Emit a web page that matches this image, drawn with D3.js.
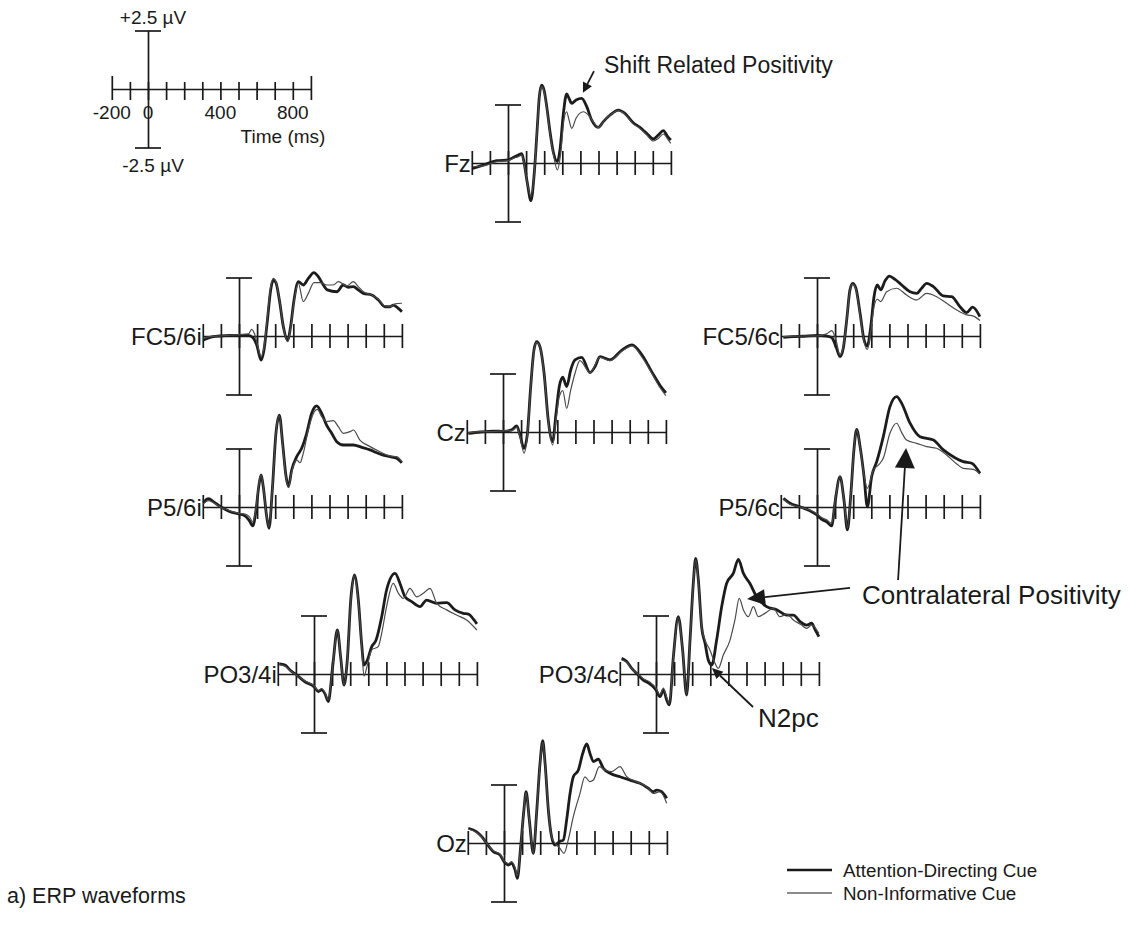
<!DOCTYPE html>
<html>
<head>
<meta charset="utf-8">
<script src="https://cdn.jsdelivr.net/npm/d3@7/dist/d3.min.js"></script>
<style>
  body { margin: 0; background: #fff; }
  svg { font-family: "Liberation Sans", Arial, Helvetica, sans-serif; }
</style>
</head>
<body>
<div id="chart"></div>
<script>
// axis ticks (ms) and the amplitude calibration bar (µV)
var timeTicks = d3.range(-200, 901, 100);
var scaleTickLabels = [-200, 0, 400, 800];
var ampBar = [-2.5, 2.5];

var electrodes = ["Fz", "FC5/6i", "FC5/6c", "Cz", "P5/6i", "P5/6c", "PO3/4i", "PO3/4c", "Oz"];
var conditions = ["Attention-Directing Cue", "Non-Informative Cue"];

// waveforms: [time ms, amplitude µV]
var fzAttend = [[-195,-0.23],[-150,-0.12],[-118,-0.04],[-63,0.1],[2,0.13],[29,0.24],[57,0.34],[76,0.4],[88,0.06],[107,-0.87],[127,-1.61],[145,-0.44],[162,1.55],[173,2.83],[186,3.33],[199,3.12],[214,2.41],[232,1.34],[250,0.48],[273,0.06],[287,0.56],[306,2.12],[324,2.95],[337,2.76],[352,2.55],[376,2.69],[407,2.76],[435,2.41],[462,1.84],[499,1.52],[527,1.77],[564,2.05],[610,2.26],[646,2.12],[692,1.72],[729,1.52],[766,1.27],[803,1.03],[831,1.2],[858,1.38],[880,1.15],[899,0.98]];
var fzNeutral = [[-195,-0.16],[-150,-0.14],[-118,-0.09],[-63,0.06],[2,0.1],[29,0.2],[57,0.27],[76,0.34],[88,0.01],[107,-0.87],[127,-1.44],[145,-0.44],[162,1.55],[173,2.8],[186,3.26],[199,3.05],[214,2.34],[232,1.27],[250,0.41],[273,-0.3],[291,0.41],[309,1.84],[324,2.19],[337,1.84],[352,1.48],[376,1.91],[416,2.19],[444,2.05],[471,1.77],[499,1.52],[527,1.77],[564,2.05],[610,2.24],[646,2.09],[692,1.67],[729,1.48],[766,1.2],[803,0.94],[831,1.05],[858,1.24],[886,0.98],[899,0.84]];

var fc56iAttend = [[-197,-0.17],[-160,-0.06],[-105,0],[-50,0.03],[0,0.03],[52,0.03],[76,-0.06],[98,-0.38],[122,-1.03],[138,-0.6],[157,0.68],[175,1.97],[190,2.39],[204,2.28],[223,1.54],[245,0.4],[269,-0.2],[285,0.4],[304,1.54],[328,2.32],[355,2.18],[383,2.46],[414,2.71],[438,2.54],[466,2.18],[488,1.97],[540,1.89],[576,2.18],[604,2.08],[632,2.11],[659,1.97],[687,1.82],[733,1.75],[770,1.54],[807,1.25],[834,1.25],[853,1.32],[880,1.18],[900,1.04]];
var fc56iNeutral = [[-197,-0.1],[-160,-0.03],[-105,0],[0,0.06],[52,0.09],[70,0.28],[88,0.04],[107,-0.53],[122,-0.88],[138,-0.48],[157,0.83],[175,2.11],[190,2.46],[204,2.32],[223,1.57],[245,0.4],[269,-0.24],[285,0.33],[304,1.47],[328,2.25],[355,1.47],[383,1.82],[414,2.28],[448,2.28],[484,2.18],[521,2.18],[549,2.32],[595,2.14],[632,2.32],[659,2.11],[687,1.89],[733,1.75],[770,1.57],[807,1.28],[834,1.25],[862,1.37],[900,1.4]];

var fc56cAttend = [[-186,-0.06],[-131,-0.03],[-76,-0.01],[0,0.03],[53,0],[81,-0.06],[105,-0.46],[127,-0.88],[145,-0.53],[164,0.68],[182,1.97],[197,2.25],[215,2.04],[238,0.97],[260,-0.17],[278,-0.43],[297,0.4],[315,1.68],[333,2.18],[352,1.97],[376,2.36],[400,2.56],[431,2.42],[468,2.18],[514,1.89],[551,1.82],[578,2.04],[606,2.25],[643,2.11],[698,1.71],[744,1.68],[790,1.25],[827,1.0],[860,1.23],[900,0.83]];
var fc56cNeutral = [[-186,-0.03],[-76,0],[0,0],[53,0.09],[81,0.23],[105,-0.17],[127,-0.81],[145,-0.48],[164,0.68],[182,1.94],[197,2.22],[215,2.0],[238,0.9],[260,-0.24],[278,-0.57],[297,0.19],[315,1.25],[333,1.57],[352,1.47],[385,1.89],[440,2.04],[495,1.75],[551,1.54],[606,1.82],[661,1.68],[716,1.4],[772,1.11],[827,0.9],[864,0.85],[900,0.66]];

var czAttend = [[-192,-0.06],[-127,0],[-53,0.04],[0,0.03],[48,0.09],[76,0.26],[94,-0.13],[116,-0.7],[134,-0.13],[153,1.94],[171,3.5],[186,3.86],[204,3.65],[227,2.51],[250,0.51],[274,-0.41],[293,0.8],[311,1.94],[330,2.34],[352,1.94],[374,2.65],[398,3.08],[435,3.19],[481,2.54],[508,2.79],[536,3.22],[591,3.08],[657,3.5],[713,3.72],[768,3.29],[823,2.56],[867,2.0],[900,1.67]];
var czNeutral = [[-192,-0.03],[-127,0.02],[-53,0.02],[0,0.05],[48,0.06],[76,0.2],[94,-0.2],[116,-0.9],[134,-0.2],[153,1.9],[171,3.45],[186,3.83],[204,3.62],[227,2.48],[250,0.48],[274,-0.56],[293,0.51],[311,1.51],[330,1.77],[352,1.01],[374,1.79],[398,2.51],[425,3.05],[481,2.54],[536,3.19],[591,3.05],[657,3.45],[713,3.68],[768,3.2],[823,2.5],[867,1.9],[900,1.55]];

var p56iAttend = [[-197,0.19],[-169,0.36],[-142,0.23],[-101,0.01],[-50,-0.2],[0,-0.3],[33,-0.38],[57,-0.58],[76,-0.81],[94,-0.13],[109,0.87],[122,1.37],[134,0.87],[153,-0.41],[166,-0.91],[184,0.73],[204,3.15],[223,3.93],[241,2.72],[260,1.3],[273,0.87],[291,1.58],[319,2.15],[346,2.51],[374,3.15],[401,4.0],[429,4.32],[457,4.0],[484,3.5],[512,3.15],[540,2.79],[576,2.65],[632,2.65],[678,2.55],[724,2.44],[761,2.32],[797,2.22],[834,2.15],[871,2.08],[900,1.89]];
var p56iNeutral = [[-197,0.13],[-169,0.27],[-142,0.19],[-101,-0.01],[-50,-0.16],[0,-0.27],[33,-0.3],[57,-0.41],[76,-0.63],[94,-0.06],[109,0.94],[122,1.37],[134,0.87],[153,-0.38],[166,-0.84],[184,0.73],[204,3.15],[223,3.89],[241,2.65],[260,1.23],[273,0.84],[291,1.5],[319,2.01],[337,1.89],[355,2.29],[383,3.29],[411,4.0],[433,4.17],[457,3.86],[484,3.65],[521,3.69],[549,3.43],[576,3.15],[613,3.22],[632,3.29],[668,2.86],[724,2.58],[779,2.36],[834,2.18],[871,2.15],[900,1.94]];

var p56cAttend = [[-186,0.37],[-149,0.16],[-94,0.01],[-39,-0.16],[0,-0.34],[26,-0.53],[53,-0.63],[81,-0.81],[99,0.16],[127,1.3],[149,0.3],[168,-0.98],[186,0.44],[204,2.44],[219,3.32],[238,2.58],[260,1.3],[278,0.01],[302,1.3],[330,1.94],[366,3.0],[403,4.29],[440,4.72],[468,4.43],[514,3.58],[569,3.0],[643,2.86],[698,2.44],[753,2.15],[808,1.94],[855,1.87],[900,1.44]];
var p56cNeutral = [[-186,0.33],[-149,0.12],[-94,0.0],[-39,-0.13],[0,-0.3],[26,-0.45],[53,-0.55],[81,-0.7],[99,0.2],[127,1.3],[149,0.3],[168,-0.9],[186,0.44],[204,2.44],[219,3.3],[238,2.55],[260,1.35],[278,0.8],[311,1.58],[339,1.79],[366,2.08],[403,3.15],[440,3.58],[468,3.18],[495,2.86],[551,2.72],[606,2.58],[661,2.51],[716,2.22],[772,1.84],[808,1.65],[864,1.61],[900,1.41]];

var po34iAttend = [[-192,0.43],[-160,0.38],[-133,0.17],[-96,-0.04],[-50,-0.33],[0,-0.54],[24,-0.75],[42,-0.68],[61,-0.85],[79,-1.18],[103,0.31],[129,1.88],[147,0.74],[166,-0.47],[184,0.6],[203,3.16],[223,4.23],[245,3.16],[263,1.31],[276,0.38],[295,0.6],[319,1.17],[343,1.45],[374,2.45],[401,3.59],[448,4.3],[475,3.87],[503,3.3],[540,3.09],[586,2.88],[622,3.16],[678,3.02],[733,3.05],[779,2.74],[825,2.59],[853,2.56],[884,2.31],[900,2.14]];
var po34iNeutral = [[-192,0.4],[-160,0.33],[-133,0.15],[-96,-0.06],[-50,-0.3],[0,-0.5],[24,-0.7],[42,-0.62],[61,-0.8],[79,-1.1],[103,0.31],[129,1.85],[147,0.74],[166,-0.45],[184,0.6],[203,3.1],[223,4.2],[245,3.1],[263,1.25],[276,-0.09],[295,0.38],[319,1.03],[355,1.17],[374,1.74],[401,2.88],[438,3.87],[466,3.45],[494,3.23],[530,3.66],[567,3.3],[604,3.45],[641,3.66],[678,3.02],[733,2.74],[788,2.52],[843,2.31],[900,1.88]];

var po34cAttend = [[-190,0.67],[-162,0.53],[-134,0.24],[-107,0.03],[-70,-0.26],[-33,-0.43],[0,-0.68],[22,-0.97],[41,-0.68],[59,-1.11],[74,-1.32],[96,0.74],[123,2.45],[147,1.03],[169,-0.9],[188,1.45],[206,3.87],[219,4.94],[234,4.02],[252,2.02],[271,1.31],[289,0.6],[308,0.38],[335,1.45],[363,2.88],[390,3.87],[427,4.3],[455,4.9],[483,4.3],[519,3.87],[556,3.3],[611,2.88],[667,2.74],[722,2.52],[759,2.52],[796,2.24],[832,2.09],[860,2.17],[878,1.91],[900,1.6]];
var po34cNeutral = [[-190,0.6],[-162,0.5],[-134,0.22],[-107,0.05],[-70,-0.2],[-33,-0.35],[0,-0.6],[22,-0.88],[41,-0.6],[59,-1.0],[74,-1.25],[96,0.74],[123,2.4],[147,1.03],[169,-0.85],[188,1.45],[206,3.8],[219,4.88],[234,3.95],[252,2.02],[271,1.45],[298,1.03],[326,0.46],[344,0.24],[372,0.81],[409,1.45],[436,2.31],[460,3.23],[483,2.74],[510,2.45],[538,2.88],[565,2.45],[602,2.59],[648,2.81],[685,2.45],[722,2.56],[759,2.31],[805,2.09],[832,1.95],[860,2.09],[900,1.74]];

var ozAttend = [[-197,0.63],[-151,0.48],[-123,0.27],[-96,-0.01],[-59,-0.37],[-22,-0.51],[0,-0.8],[24,-0.94],[42,-0.87],[61,-1.15],[74,-1.51],[92,-0.16],[110,1.41],[122,2.19],[140,0.98],[162,-0.44],[180,1.27],[199,3.4],[214,4.37],[227,3.4],[245,1.41],[263,0.27],[282,-0.09],[306,0.06],[328,0.13],[346,0.98],[365,2.12],[383,2.83],[411,3.12],[435,3.83],[457,4.23],[475,3.83],[494,3.48],[521,3.58],[549,3.19],[586,2.98],[641,2.83],[696,2.69],[751,2.55],[797,2.34],[825,2.19],[843,2.26],[871,2.19],[899,1.91]];
var ozNeutral = [[-197,0.6],[-151,0.45],[-123,0.25],[-96,0.0],[-59,-0.33],[-22,-0.48],[0,-0.75],[24,-0.88],[42,-0.8],[61,-1.05],[74,-1.4],[92,-0.16],[110,1.41],[122,2.15],[140,0.98],[162,-0.42],[180,1.27],[199,3.35],[214,4.3],[227,3.35],[245,1.41],[263,0.27],[282,-0.01],[309,-0.23],[331,-0.44],[355,0.13],[383,1.13],[420,2.12],[447,2.83],[475,2.62],[494,2.69],[527,3.26],[558,3.12],[595,3.05],[641,3.26],[678,2.83],[733,2.62],[788,2.41],[825,2.12],[862,2.19],[899,1.7]];

var waves = {
  "Fz": [fzAttend, fzNeutral],
  "FC5/6i": [fc56iAttend, fc56iNeutral],
  "FC5/6c": [fc56cAttend, fc56cNeutral],
  "Cz": [czAttend, czNeutral],
  "P5/6i": [p56iAttend, p56iNeutral],
  "P5/6c": [p56cAttend, p56cNeutral],
  "PO3/4i": [po34iAttend, po34iNeutral],
  "PO3/4c": [po34cAttend, po34cNeutral],
  "Oz": [ozAttend, ozNeutral]
};

// layout: pixel position of (0 ms, 0 µV) for every panel
var origin = {
  "Fz": [508, 163], "FC5/6i": [239, 336], "FC5/6c": [817, 336],
  "Cz": [503, 432], "P5/6i": [239, 507], "P5/6c": [817, 507],
  "PO3/4i": [314, 674], "PO3/4c": [656, 674], "Oz": [504, 843]
};
var msPx = 0.181, uvPx = 23.4;
var ink = "#1a1a1a";

var svg = d3.select("#chart").append("svg")
  .attr("width", 1130).attr("height", 930);

function scalesAt(o) {
  var x = d3.scaleLinear().domain([-200, 900]).range([o[0] - 200 * msPx, o[0] + 900 * msPx]);
  var y = d3.scaleLinear().domain([-2.5, 2.5]).range([o[1] + 2.5 * uvPx, o[1] - 2.5 * uvPx]);
  return {x: x, y: y};
}

function drawAxes(g, s, tickUp, tickDown, endUp) {
  var xa = g.append("g")
    .attr("transform", "translate(0," + s.y(0) + ")")
    .call(d3.axisBottom(s.x).tickValues(timeTicks).tickSize(tickDown).tickSizeOuter(0).tickFormat(""));
  xa.selectAll(".tick line")
    .attr("y1", function(d) { return (d == -200 || d == 900) ? -endUp : -tickUp; })
    .attr("y2", tickDown);
  var ya = g.append("g")
    .attr("transform", "translate(" + s.x(0) + ",0)")
    .call(d3.axisLeft(s.y).tickValues(ampBar).tickSize(0).tickSizeOuter(0).tickFormat(""));
  ya.selectAll(".tick line").attr("x1", -13).attr("x2", 13);
  g.selectAll(".domain, .tick line").attr("stroke", ink).attr("stroke-width", 1.7);
}

// waveform panels
electrodes.forEach(function(name) {
  var s = scalesAt(origin[name]);
  var g = svg.append("g").attr("class", "panel");
  drawAxes(g, s, 12, 12, 12);

  var line = d3.line()
    .x(function(d) { return s.x(d[0]); })
    .y(function(d) { return s.y(d[1]); })
    .curve(d3.curveMonotoneX);

  g.append("path").datum(waves[name][0])
    .attr("d", line).attr("fill", "none")
    .attr("stroke", "#1c1c1c").attr("stroke-width", 2.8).attr("stroke-linejoin", "round");
  g.append("path").datum(waves[name][1])
    .attr("d", line).attr("fill", "none")
    .attr("stroke", "#4a4a4a").attr("stroke-width", 1.2).attr("stroke-linejoin", "round");

  g.append("text")
    .attr("x", s.x(-200) - 1).attr("y", s.y(0) + 9)
    .attr("text-anchor", "end").attr("font-size", 24).attr("fill", ink)
    .text(name);
});

// calibration legend in the upper left
var cal = scalesAt([148, 89]);
var cg = svg.append("g");
drawAxes(cg, cal, 7, 11, 13);
cg.selectAll(".lbl").data(scaleTickLabels).enter().append("text")
  .attr("x", function(d) { return cal.x(d); }).attr("y", 119)
  .attr("text-anchor", "middle").attr("font-size", 19).attr("fill", ink)
  .text(function(d) { return d; });
cg.append("text").attr("x", 283).attr("y", 143).attr("text-anchor", "middle")
  .attr("font-size", 19).attr("fill", ink).text("Time (ms)");
cg.append("text").attr("x", cal.x(0) + 5).attr("y", 24).attr("text-anchor", "middle")
  .attr("font-size", 19).attr("fill", ink).text("+2.5 \u00b5V");
cg.append("text").attr("x", cal.x(0) + 5).attr("y", 172).attr("text-anchor", "middle")
  .attr("font-size", 19).attr("fill", ink).text("-2.5 \u00b5V");

// annotation arrows: tail/tip given in a panel's (ms, µV) space
var arrows = [
  {panel: "Fz", from: [475, 3.93], to: [414, 3.0], head: 10, half: 5},
  {panel: "PO3/4c", from: [1072, 3.68], to: [503, 3.2], head: 18, half: 8},
  {panel: "P5/6c", from: [448, -3.12], to: [492, 2.52], head: 20, half: 10},
  {panel: "PO3/4c", from: [536, -1.41], to: [309, 0.26], head: 11, half: 5}
];
arrows.forEach(function(a) {
  var s = scalesAt(origin[a.panel]);
  var x1 = s.x(a.from[0]), y1 = s.y(a.from[1]), x2 = s.x(a.to[0]), y2 = s.y(a.to[1]);
  var dx = x2 - x1, dy = y2 - y1, len = Math.sqrt(dx * dx + dy * dy);
  var ux = dx / len, uy = dy / len;
  var bx = x2 - ux * a.head, by = y2 - uy * a.head;
  svg.append("line").attr("x1", x1).attr("y1", y1).attr("x2", bx).attr("y2", by)
    .attr("stroke", ink).attr("stroke-width", 1.8);
  svg.append("path")
    .attr("d", "M" + x2 + "," + y2 + "L" + (bx - uy * a.half) + "," + (by + ux * a.half) +
      "L" + (bx + uy * a.half) + "," + (by - ux * a.half) + "Z")
    .attr("fill", ink);
});

svg.append("text").attr("x", 604).attr("y", 73).attr("font-size", 23).attr("fill", ink)
  .text("Shift Related Positivity");
svg.append("text").attr("x", 862).attr("y", 604).attr("font-size", 26).attr("fill", ink)
  .text("Contralateral Positivity");
svg.append("text").attr("x", 758).attr("y", 727).attr("font-size", 26).attr("fill", ink)
  .text("N2pc");

// condition legend
var legend = svg.append("g").attr("transform", "translate(787,870)");
conditions.forEach(function(c, i) {
  legend.append("line").attr("x1", 0).attr("x2", 45).attr("y1", i * 23).attr("y2", i * 23)
    .attr("stroke", ink).attr("stroke-width", i == 0 ? 2.6 : 1.2);
  legend.append("text").attr("x", 56).attr("y", i * 23 + 7).attr("font-size", 18.8).attr("fill", ink)
    .text(c);
});

svg.append("text").attr("x", 7).attr("y", 903).attr("font-size", 21.5).attr("fill", ink)
  .text("a) ERP waveforms");
</script>
</body>
</html>
